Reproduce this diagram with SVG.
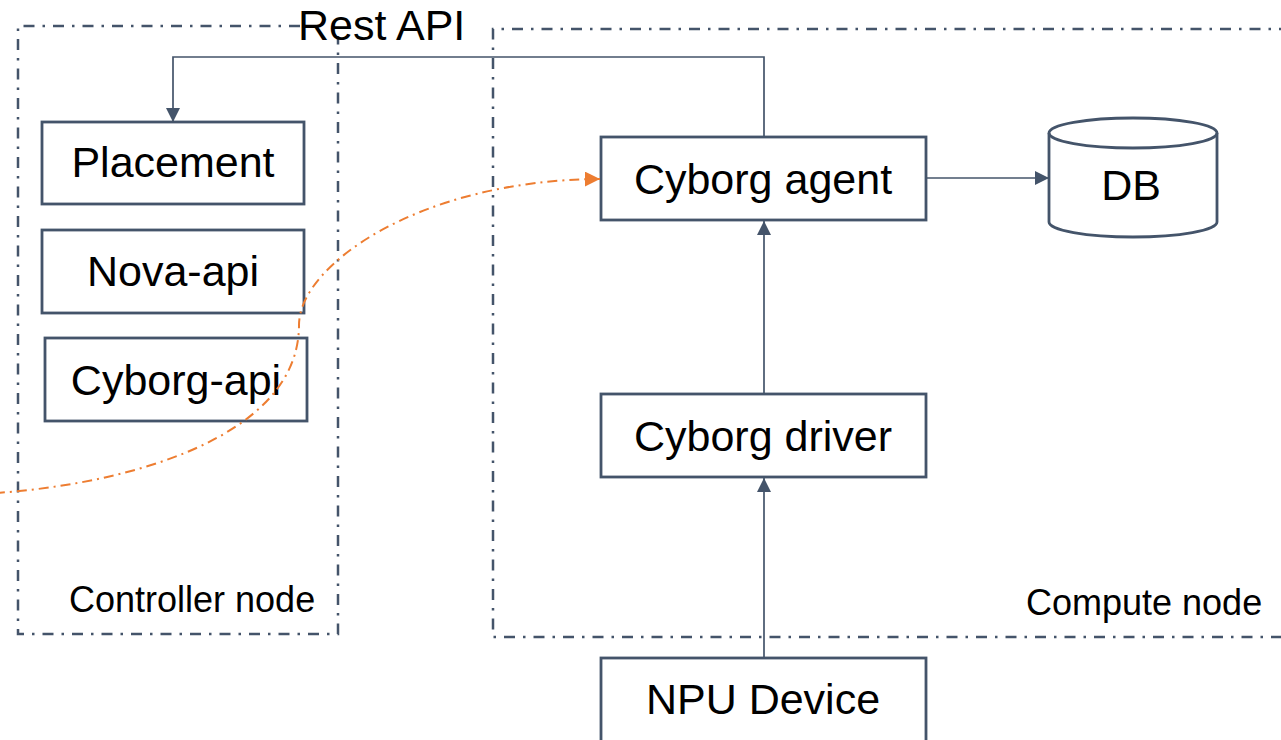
<svg xmlns="http://www.w3.org/2000/svg" width="1281" height="740" viewBox="0 0 1281 740">
<style>
.bg{fill:#ffffff}
.container{fill:none;stroke:#44546A;stroke-width:2.5;stroke-dasharray:11 8 2.5 8}
.box{fill:#ffffff;stroke:#44546A;stroke-width:2.8}
.lbl{font-family:"Liberation Sans",Arial,sans-serif;font-size:43px;fill:#000000;text-anchor:middle}
.clbl{font-family:"Liberation Sans",Arial,sans-serif;font-size:36px;fill:#000000}
.conn{fill:none;stroke:#44546A;stroke-width:1.7}
.flow{fill:none;stroke:#ED7D31;stroke-width:2;stroke-dasharray:10 5 2 5}
</style>
<defs>
<marker id="arrow" viewBox="0 0 14 14" refX="14" refY="7" markerWidth="14" markerHeight="14" markerUnits="userSpaceOnUse" orient="auto">
<path d="M0,0 L14,7 L0,14 z" fill="#44546A"/>
</marker>
<marker id="arrowOrange" viewBox="0 0 15 15" refX="15" refY="7.5" markerWidth="15" markerHeight="15" markerUnits="userSpaceOnUse" orient="auto">
<path d="M0,0 L15,7.5 L0,15 z" fill="#ED7D31"/>
</marker>
</defs>
<rect class="bg" x="0" y="0" width="1281" height="740"/>

<g id="controller-node">
<path class="container" d="M300,26 H18 V634 H338 V36"/>
<text class="clbl" x="69" y="612">Controller node</text>
</g>

<g id="compute-node">
<path class="container" d="M1290,29 H493 V637 H1290"/>
<text class="clbl" x="1026" y="615">Compute node</text>
</g>

<g id="rest-api-label">
<text class="clbl" style="font-size:43px" x="298" y="40">Rest API</text>
</g>

<g id="placement">
<rect class="box" x="42" y="122" width="262" height="82"/>
<text class="lbl" x="173" y="177">Placement</text>
</g>

<g id="nova-api">
<rect class="box" x="42" y="230" width="262" height="83"/>
<text class="lbl" x="173" y="286">Nova-api</text>
</g>

<g id="cyborg-api">
<rect class="box" x="45" y="338" width="262" height="83"/>
<text class="lbl" x="176" y="395">Cyborg-api</text>
</g>

<g id="cyborg-agent">
<rect class="box" x="601" y="137" width="325" height="83"/>
<text class="lbl" x="763" y="194">Cyborg agent</text>
</g>

<g id="db">
<path class="box" d="M1049,133 V222 A84,15 0 0 0 1217,222 V133 A84,15 0 0 0 1049,133 Z"/>
<path class="box" style="fill:none" d="M1049,133 A84,15 0 0 0 1217,133"/>
<text class="lbl" x="1131" y="200">DB</text>
</g>

<g id="cyborg-driver">
<rect class="box" x="601" y="394" width="325" height="83"/>
<text class="lbl" x="763" y="451">Cyborg driver</text>
</g>

<g id="npu-device">
<rect class="box" x="601" y="658" width="325" height="100"/>
<text class="lbl" x="763" y="714">NPU Device</text>
</g>

<g id="connectors">
<path class="conn" d="M764,137 V57 H173 V122" marker-end="url(#arrow)"/>
<path class="conn" d="M926,178 H1049" marker-end="url(#arrow)"/>
<path class="conn" d="M764,394 V221" marker-end="url(#arrow)"/>
<path class="conn" d="M764,658 V478" marker-end="url(#arrow)"/>
<path class="flow" d="M-5,493 C120,485 299,440 299,325 C299,265 420,180 600,179" marker-end="url(#arrowOrange)"/>
</g>
</svg>
